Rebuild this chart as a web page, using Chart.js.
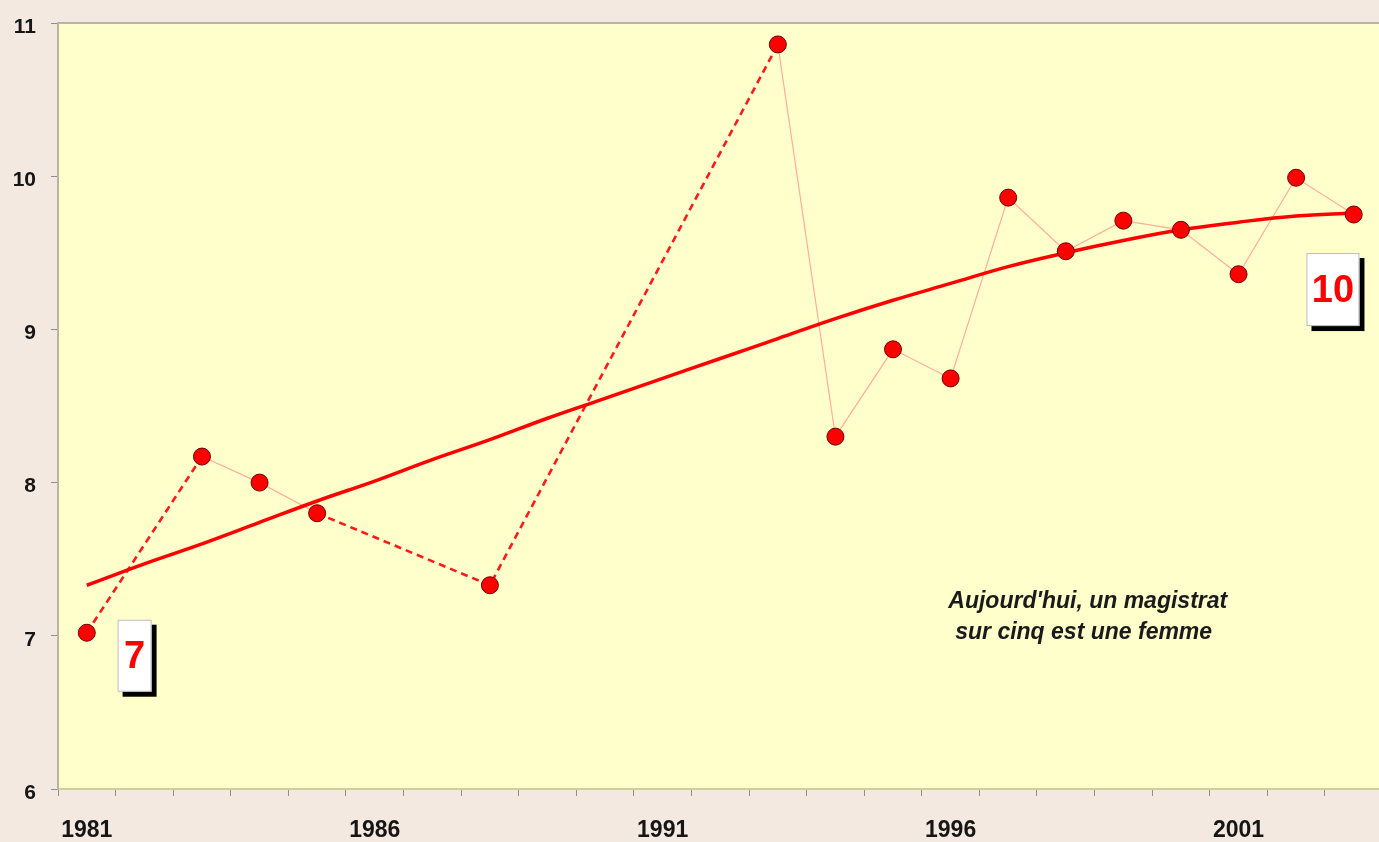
<!DOCTYPE html>
<html>
<head>
<meta charset="utf-8">
<script src="https://cdn.jsdelivr.net/npm/chart.js@4/dist/chart.umd.min.js"></script>
<style>
  html, body { margin: 0; padding: 0; overflow: hidden; background: #f3e9e1; }
  #wrap { width: 1392px; height: 842px; }
</style>
</head>
<body>
<div id="wrap"><canvas id="chart" width="1392" height="842"></canvas></div>
<script>
// every year on the axis
const years = [1981, 1982, 1983, 1984, 1985, 1986, 1987, 1988, 1989, 1990, 1991, 1992,
  1993, 1994, 1995, 1996, 1997, 1998, 1999, 2000, 2001, 2002, 2003];
// years shown under the axis
const tickYears = [1981, 1986, 1991, 1996, 2001];
// observed values (years with a survey)
const obsYears = [1981, 1983, 1984, 1985, 1988, 1993, 1994, 1995, 1996, 1997, 1998, 1999, 2000, 2001, 2002, 2003];
const obsValues = [7.02, 8.17, 8.00, 7.80, 7.33, 10.86, 8.30, 8.87, 8.68, 9.86, 9.51, 9.71, 9.65, 9.36, 9.99, 9.75];
// trend curve, read year by year
const trendValues = [7.33, 7.47, 7.60, 7.74, 7.88, 8.01, 8.15, 8.28, 8.42, 8.55, 8.68, 8.81,
  8.94, 9.07, 9.19, 9.30, 9.41, 9.50, 9.58, 9.65, 9.70, 9.74, 9.76];
const yTicks = [6, 7, 8, 9, 10, 11];

const FONT = "'Liberation Sans', Arial, Helvetica, sans-serif";

const series = years.map(y => {
  const i = obsYears.indexOf(y);
  return i >= 0 ? obsValues[i] : null;
});

// a segment touching a missing year belongs to a dashed jump
const isGap = ctx => !!(ctx.p0.skip || ctx.p1.skip);

const backdrop = {
  id: "backdrop",
  beforeDraw(chart) {
    const { ctx, chartArea: a } = chart;
    ctx.save();
    ctx.fillStyle = "#f3e9e1";
    ctx.fillRect(0, 0, chart.width, chart.height);
    ctx.fillStyle = "#ffffcc";
    ctx.fillRect(a.left, a.top, a.right - a.left, a.bottom - a.top);
    ctx.restore();
  },
  afterDraw(chart) {
    const { ctx, chartArea: a } = chart;
    ctx.save();
    ctx.strokeStyle = "#b9b3a8";
    ctx.lineWidth = 2;
    ctx.beginPath();
    ctx.moveTo(a.left, a.top);
    ctx.lineTo(a.right, a.top);
    ctx.stroke();
    ctx.restore();
  }
};

const callouts = {
  id: "callouts",
  afterDatasetsDraw(chart) {
    const { ctx, scales: { x, y } } = chart;
    const boxes = [
      { text: "7", cx: x.getPixelForValue(0.83), cy: y.getPixelForValue(6.87), w: 34, h: 72 },
      { text: "10", cx: x.getPixelForValue(21.64), cy: y.getPixelForValue(9.26), w: 53, h: 73 }
    ];
    ctx.save();
    boxes.forEach(b => {
      const l = b.cx - b.w / 2, t = b.cy - b.h / 2;
      ctx.fillStyle = "#000";
      ctx.fillRect(l + 5, t + 5, b.w, b.h);
      ctx.fillStyle = "#ffffff";
      ctx.fillRect(l, t, b.w, b.h);
      ctx.strokeStyle = "#bbbbbb";
      ctx.lineWidth = 1;
      ctx.strokeRect(l + 0.5, t + 0.5, b.w - 1, b.h - 1);
      ctx.fillStyle = "#ff0000";
      ctx.font = "bold 38px " + FONT;
      ctx.textAlign = "center";
      ctx.textBaseline = "middle";
      ctx.fillText(b.text, b.cx, b.cy + 2);
    });
    ctx.fillStyle = "#1a1a1a";
    ctx.font = "italic bold 23px " + FONT;
    ctx.textAlign = "left";
    ctx.textBaseline = "middle";
    ctx.fillText("Aujourd'hui, un magistrat", x.getPixelForValue(14.96), y.getPixelForValue(7.22));
    ctx.fillText("sur cinq est une femme", x.getPixelForValue(15.08), y.getPixelForValue(7.02));
    ctx.restore();
  }
};

new Chart(document.getElementById("chart"), {
  type: "line",
  data: {
    labels: years,
    datasets: [
      {
        data: series,
        spanGaps: true,
        pointRadius: 0,
        borderColor: "#ffae98",
        borderWidth: 1.2,
        segment: {
          borderDash: ctx => isGap(ctx) ? [7, 5] : undefined,
          borderColor: ctx => isGap(ctx) ? "#ff1a1a" : undefined,
          borderWidth: ctx => isGap(ctx) ? 2.6 : undefined
        },
        order: 3
      },
      {
        data: trendValues,
        pointRadius: 0,
        borderColor: "#ff0000",
        borderWidth: 3.5,
        tension: 0.4,
        order: 2
      },
      {
        data: series,
        showLine: false,
        pointRadius: 8.5,
        pointBackgroundColor: "#ff0000",
        pointBorderColor: "#6a0000",
        pointBorderWidth: 1,
        order: 1
      }
    ]
  },
  options: {
    responsive: false,
    animation: false,
    layout: { padding: { top: 23, right: 2, bottom: 0, left: 0 } },
    plugins: { legend: { display: false }, tooltip: { enabled: false } },
    scales: {
      x: {
        type: "category",
        offset: true,
        grid: { display: true, drawOnChartArea: false, offset: true, tickLength: 7, color: "#8f8f8f" },
        border: { display: true, color: "#cfcf9a", width: 2 },
        ticks: {
          autoSkip: false,
          maxRotation: 0,
          padding: 21,
          color: "#151515",
          font: { family: FONT, size: 23, weight: "bold" },
          callback(value) {
            const yr = years[value];
            return tickYears.includes(yr) ? String(yr) : "";
          }
        },
        afterFit(scale) { scale.height = 53; }
      },
      y: {
        min: yTicks[0],
        max: yTicks[yTicks.length - 1],
        grid: { display: true, drawOnChartArea: false, tickLength: 7, color: "#8f8f8f" },
        border: { display: true, color: "#b9b3a8", width: 2 },
        ticks: {
          stepSize: 1,
          padding: 15,
          labelOffset: 4,
          color: "#151515",
          font: { family: FONT, size: 21, weight: "bold" }
        },
        afterFit(scale) {
          scale.width = 58;
          scale.paddingTop = 0;
          scale.paddingBottom = 0;
        }
      }
    }
  },
  plugins: [backdrop, callouts]
});
</script>
</body>
</html>
